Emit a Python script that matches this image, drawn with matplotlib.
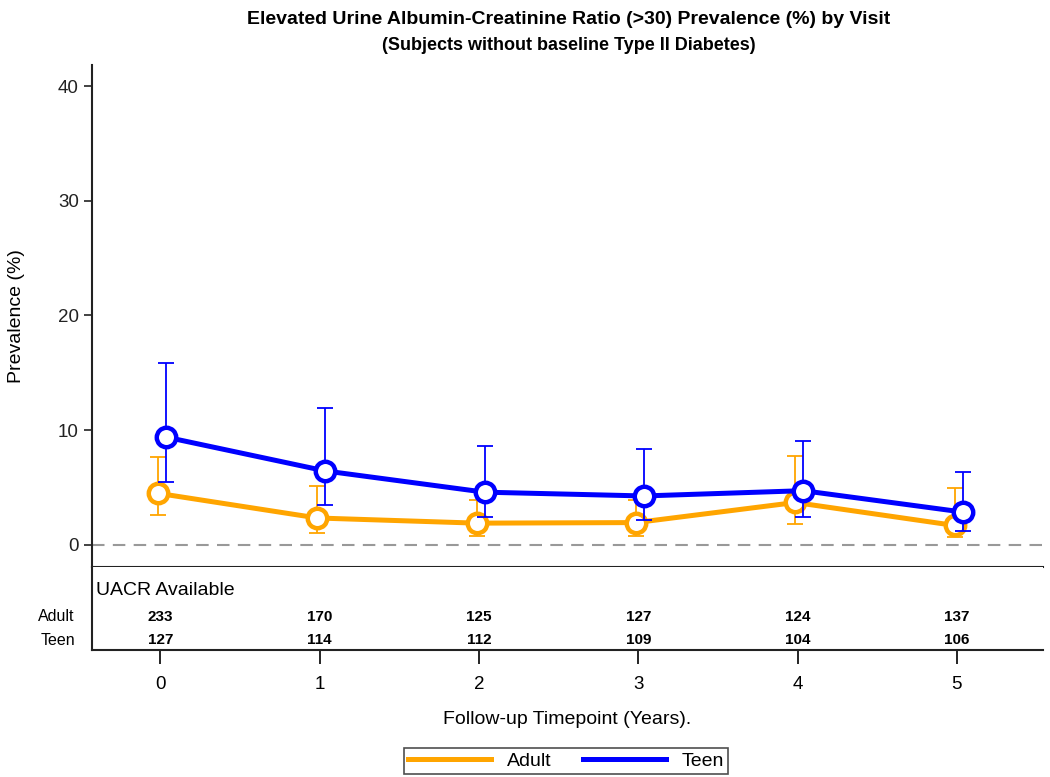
import numpy as np
import matplotlib
matplotlib.use('Agg')
import matplotlib.pyplot as plt

plt.rcParams['font.family'] = ['Liberation Sans', 'DejaVu Sans']

# values
visits = [0, 1, 2, 3, 4, 5]
adult = [4.5, 2.35, 1.9, 1.95, 3.7, 1.7]
adult_lo = [2.6, 1.05, 0.8, 0.8, 1.85, 0.65]
adult_hi = [7.7, 5.1, 3.9, 3.9, 7.75, 4.95]
teen = [9.4, 6.45, 4.6, 4.27, 4.73, 2.87]
teen_lo = [5.5, 3.5, 2.4, 2.2, 2.45, 1.2]
teen_hi = [15.9, 11.9, 8.6, 8.4, 9.1, 6.4]
n_adult = [233, 170, 125, 127, 124, 137]
n_teen = [127, 114, 112, 109, 104, 106]

c_adult = '#FFA500'
c_teen = '#0000FF'

fig = plt.figure(figsize=(10.5, 7.77), dpi=100)
ax = fig.add_axes([0.0876, 0.2703, 0.9057, 0.646])
axt = fig.add_axes([0.0876, 0.1634, 0.9057, 0.1069], sharex=ax)

x = np.array(visits, dtype=float)
xa = x - 0.015
xt = x + 0.035

def draw(xx, y, lo, hi, col, lab, z):
    y = np.array(y); lo = np.array(lo); hi = np.array(hi)
    ax.errorbar(xx, y, yerr=[y - lo, hi - y], fmt='none', ecolor=col,
                elinewidth=1.3, capsize=5.5, capthick=1.3, zorder=z)
    ax.plot(xx, y, '-', color=col, lw=3.6, zorder=z + 1, label=lab)
    ax.plot(xx, y, 'o', ms=14, mfc='white', mec=col, mew=3.2, zorder=z + 2)

draw(xa, adult, adult_lo, adult_hi, c_adult, 'Adult', 2)
draw(xt, teen, teen_lo, teen_hi, c_teen, 'Teen', 6)

ax.axhline(0, color='#999999', lw=1.5, ls=(0, (6, 4)), zorder=1)
ax.set_ylim(-1.92, 41.83)
ax.set_xlim(-0.43, 5.54)
ax.set_yticks([0, 10, 20, 30, 40])
ax.tick_params(axis='y', labelsize=13.5, length=6, width=1.2, colors='#222222')
ax.tick_params(axis='x', bottom=False, labelbottom=False)
for s in ['top', 'right']:
    ax.spines[s].set_visible(False)
for s in ['left', 'bottom']:
    ax.spines[s].set_linewidth(1.5)
    ax.spines[s].set_color('#222222')
ax.set_ylabel('Prevalence (%)', fontsize=14)
ax.yaxis.set_label_coords(-0.07, 0.5)

fig.text(0.542, 0.975, 'Elevated Urine Albumin-Creatinine Ratio (>30) Prevalence (%) by Visit',
         ha='center', va='center', fontsize=14, fontweight='bold')
fig.text(0.542, 0.941, '(Subjects without baseline Type II Diabetes)',
         ha='center', va='center', fontsize=13, fontweight='bold')

# table of counts
axt.set_ylim(0, 1)
axt.set_yticks([])
for s in ['top', 'right']:
    axt.spines[s].set_visible(False)
for s in ['left', 'bottom']:
    axt.spines[s].set_linewidth(1.5)
    axt.spines[s].set_color('#222222')
axt.set_xticks(visits)
axt.tick_params(axis='x', labelsize=13.5, length=10, width=1.2, pad=9)
axt.text(0.004, 0.72, 'UACR Available', transform=axt.transAxes, fontsize=14,
         va='center', ha='left')
axt.text(-0.018, 0.40, 'Adult', transform=axt.transAxes, fontsize=11.5,
         va='center', ha='right')
axt.text(-0.018, 0.12, 'Teen', transform=axt.transAxes, fontsize=11.5,
         va='center', ha='right')
for v, na, nt in zip(visits, n_adult, n_teen):
    axt.text(v, 0.40, str(na), ha='center', va='center', fontsize=11,
             fontweight='bold')
    axt.text(v, 0.12, str(nt), ha='center', va='center', fontsize=11,
             fontweight='bold')
axt.set_xlabel('Follow-up Timepoint (Years).', fontsize=14, labelpad=13)

h, l = ax.get_legend_handles_labels()
leg = fig.legend(h, l, loc='center', bbox_to_anchor=(0.539, 0.0205), ncol=2,
                 fontsize=14, frameon=True, fancybox=False, handlelength=4.3,
                 handletextpad=0.8, columnspacing=1.6, borderpad=0.2,
                 edgecolor='#222222')
leg.get_frame().set_linewidth(1.2)

fig.savefig('out.png', dpi=100)
